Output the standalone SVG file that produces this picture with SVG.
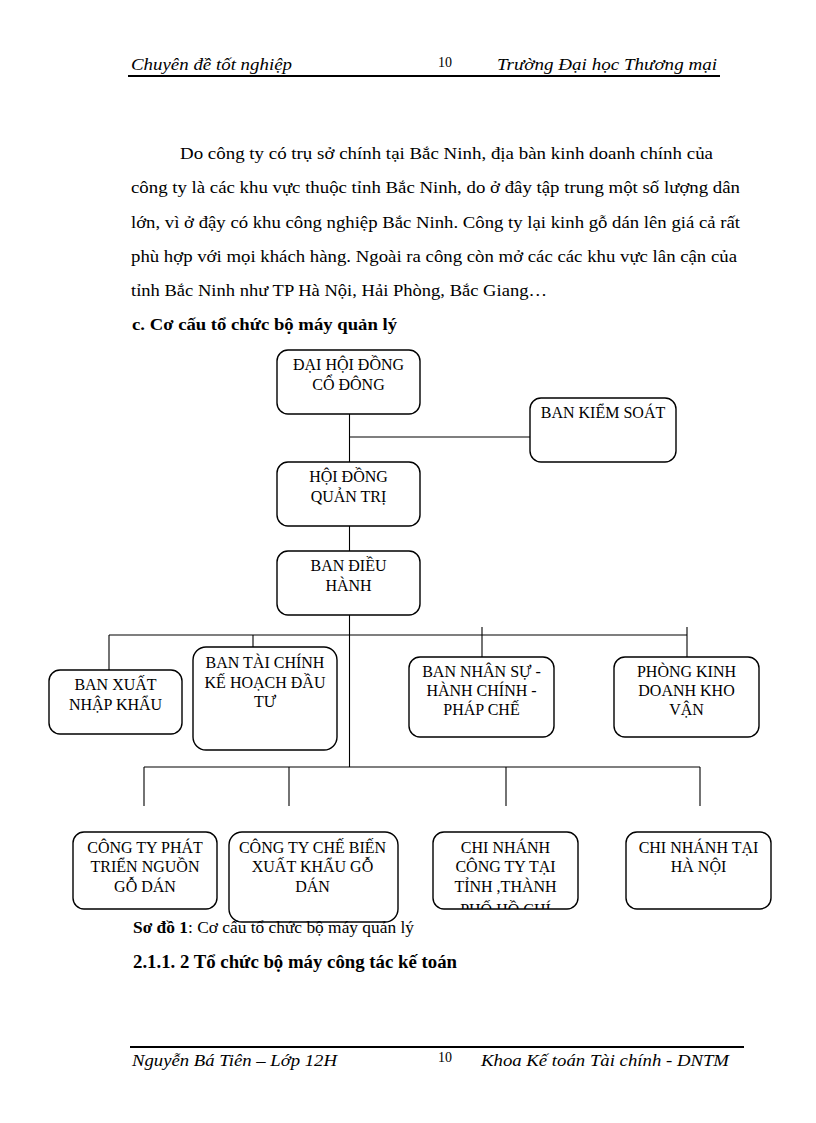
<svg xmlns="http://www.w3.org/2000/svg" width="816" height="1123" viewBox="0 0 816 1123">
<style>
.bg{fill:#ffffff}
.hd{font-family:"Liberation Serif","Times New Roman",serif;font-style:italic;font-size:17px;fill:#000}
.pg{font-family:"Liberation Serif","Times New Roman",serif;font-size:14px;fill:#000}
.tx{font-family:"Liberation Serif","Times New Roman",serif;font-size:17px;fill:#000}
.bd{font-family:"Liberation Serif","Times New Roman",serif;font-weight:bold;fill:#000}
.box{fill:#ffffff;stroke:#000;stroke-width:1.4}
.lbl{font-family:"Liberation Serif","Times New Roman",serif;font-size:16px;fill:#000;text-anchor:middle}
.ln{stroke:#000;stroke-width:1.1;fill:none}
.rule{stroke:#000;stroke-width:2.2}
</style>
<defs>
<clipPath id="clip11"><rect x="433" y="832" width="145" height="77" rx="11"/></clipPath>
</defs>
<rect class="bg" x="0" y="0" width="816" height="1123"/>

<g id="header">
<text class="hd" x="131" y="70" textLength="161" lengthAdjust="spacingAndGlyphs">Chuyên đề tốt nghiệp</text>
<text class="pg" x="438" y="67">10</text>
<text class="hd" x="497" y="70" textLength="220" lengthAdjust="spacingAndGlyphs">Trường Đại học Thương mại</text>
<line class="rule" x1="128" y1="76" x2="720" y2="76"/>
</g>

<g id="body">
<text class="tx" x="180" y="159" textLength="533" lengthAdjust="spacingAndGlyphs">Do công ty có trụ sở chính tại Bắc Ninh,  địa bàn kinh  doanh chính của</text>
<text class="tx" x="131" y="193" textLength="609" lengthAdjust="spacingAndGlyphs">công ty là  các khu vực thuộc tỉnh Bắc Ninh,  do ở đây tập trung một số lượng  dân</text>
<text class="tx" x="131" y="228" textLength="609" lengthAdjust="spacingAndGlyphs">lớn, vì ở đậy có khu công nghiệp  Bắc Ninh.  Công ty lại  kinh  gỗ dán lên giá  cả rất</text>
<text class="tx" x="131" y="262" textLength="606" lengthAdjust="spacingAndGlyphs">phù hợp với mọi khách hàng. Ngoài ra công còn mở các các khu vực lân  cận của</text>
<text class="tx" x="131" y="296" textLength="416" lengthAdjust="spacingAndGlyphs">tỉnh Bắc Ninh  như TP Hà Nội, Hải  Phòng, Bắc Giang…</text>
<text class="bd" x="132" y="330" font-size="17" textLength="265" lengthAdjust="spacingAndGlyphs">c. Cơ cấu tổ chức bộ máy quản lý</text>
</g>

<g id="connectors">
<line class="ln" x1="349.5" y1="414" x2="349.5" y2="462"/>
<line class="ln" x1="349.5" y1="437" x2="530" y2="437"/>
<line class="ln" x1="349.5" y1="526" x2="349.5" y2="551"/>
<line class="ln" x1="349.5" y1="615" x2="349.5" y2="767"/>
<line class="ln" x1="109" y1="635" x2="687" y2="635"/>
<line class="ln" x1="109" y1="635" x2="109" y2="670"/>
<line class="ln" x1="253" y1="635" x2="253" y2="647"/>
<line class="ln" x1="482" y1="627" x2="482" y2="657"/>
<line class="ln" x1="687" y1="627" x2="687" y2="657"/>
<line class="ln" x1="144" y1="767" x2="700" y2="767"/>
<line class="ln" x1="144" y1="767" x2="144" y2="806"/>
<line class="ln" x1="289" y1="767" x2="289" y2="806"/>
<line class="ln" x1="506" y1="767" x2="506" y2="806"/>
<line class="ln" x1="700" y1="767" x2="700" y2="806"/>
</g>

<g id="n1">
<rect class="box" x="277" y="350" width="143" height="64" rx="11"/>
<text class="lbl" x="348.5" y="370">ĐẠI HỘI ĐỒNG</text>
<text class="lbl" x="348.5" y="390">CỔ ĐÔNG</text>
</g>
<g id="n2">
<rect class="box" x="530" y="398" width="146" height="64" rx="11"/>
<text class="lbl" x="603" y="418">BAN KIỂM SOÁT</text>
</g>
<g id="n3">
<rect class="box" x="277" y="462" width="143" height="64" rx="11"/>
<text class="lbl" x="348.5" y="482">HỘI ĐỒNG</text>
<text class="lbl" x="348.5" y="502">QUẢN TRỊ</text>
</g>
<g id="n4">
<rect class="box" x="277" y="551" width="143" height="64" rx="11"/>
<text class="lbl" x="348.5" y="571">BAN ĐIỀU</text>
<text class="lbl" x="348.5" y="591">HÀNH</text>
</g>
<g id="n5">
<rect class="box" x="49" y="670" width="133" height="64" rx="11"/>
<text class="lbl" x="115.5" y="690">BAN XUẤT</text>
<text class="lbl" x="115.5" y="710">NHẬP KHẨU</text>
</g>
<g id="n6">
<rect class="box" x="193" y="647" width="144" height="103" rx="13"/>
<text class="lbl" x="265" y="668">BAN TÀI CHÍNH</text>
<text class="lbl" x="265" y="688">KẾ HOẠCH ĐẦU</text>
<text class="lbl" x="265" y="707">TƯ</text>
</g>
<g id="n7">
<rect class="box" x="409" y="657" width="145" height="80" rx="11"/>
<text class="lbl" x="481.5" y="677">BAN NHÂN SỰ -</text>
<text class="lbl" x="481.5" y="696">HÀNH CHÍNH -</text>
<text class="lbl" x="481.5" y="715">PHÁP CHẾ</text>
</g>
<g id="n8">
<rect class="box" x="614" y="657" width="145" height="80" rx="11"/>
<text class="lbl" x="686.5" y="677">PHÒNG KINH</text>
<text class="lbl" x="686.5" y="696">DOANH KHO</text>
<text class="lbl" x="686.5" y="715">VẬN</text>
</g>
<g id="n9">
<rect class="box" x="73" y="832" width="144" height="77" rx="11"/>
<text class="lbl" x="145" y="853">CÔNG TY PHÁT</text>
<text class="lbl" x="145" y="872">TRIỂN NGUỒN</text>
<text class="lbl" x="145" y="892">GỖ DÁN</text>
</g>
<g id="n10">
<rect class="box" x="229" y="832" width="169" height="90" rx="13"/>
<text class="lbl" x="312.5" y="853">CÔNG TY CHẾ BIẾN</text>
<text class="lbl" x="312.5" y="872">XUẤT KHẨU GỖ</text>
<text class="lbl" x="312.5" y="892">DÁN</text>
</g>
<g id="n11">
<rect class="box" x="433" y="832" width="145" height="77" rx="11"/>
<g clip-path="url(#clip11)">
<text class="lbl" x="505.5" y="853">CHI NHÁNH</text>
<text class="lbl" x="505.5" y="872">CÔNG TY TẠI</text>
<text class="lbl" x="505.5" y="892">TỈNH ,THÀNH</text>
<text class="lbl" x="505.5" y="915">PHỐ HỒ CHÍ</text>
</g>
</g>
<g id="n12">
<rect class="box" x="626" y="832" width="145" height="77" rx="11"/>
<text class="lbl" x="698.5" y="853">CHI NHÁNH TẠI</text>
<text class="lbl" x="698.5" y="872">HÀ NỘI</text>
</g>

<g id="captions">
<text class="tx" x="133" y="933" font-size="15" textLength="281" lengthAdjust="spacingAndGlyphs"><tspan font-weight="bold">Sơ đồ 1</tspan>: Cơ cấu tổ chức bộ máy quản  lý</text>
<text class="bd" x="133" y="968" font-size="18" textLength="324" lengthAdjust="spacingAndGlyphs">2.1.1. 2 Tổ chức bộ máy công tác kế toán</text>
</g>

<g id="footer">
<line class="rule" x1="130" y1="1047" x2="744" y2="1047"/>
<text class="hd" x="132" y="1066" textLength="205" lengthAdjust="spacingAndGlyphs">Nguyễn Bá Tiên – Lớp 12H</text>
<text class="pg" x="438" y="1062">10</text>
<text class="hd" x="481" y="1066" textLength="248" lengthAdjust="spacingAndGlyphs">Khoa Kế toán Tài chính - DNTM</text>
</g>
</svg>
